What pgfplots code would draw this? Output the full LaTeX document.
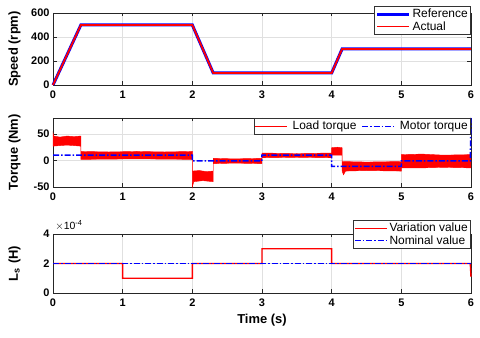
\documentclass[border=0pt]{standalone}
\usepackage{fontspec}
\setmainfont{Liberation Sans}
\usepackage{pgfplots}
\pgfplotsset{compat=1.18}
\definecolor{mred}{RGB}{255,0,0}
\definecolor{mblue}{RGB}{0,0,255}

\pgfplotsset{
  legend image code/.code={\draw[mark repeat=2,mark phase=2,#1] (0bp,0bp) -- (16bp,0bp) -- (32bp,0bp);},
  mat/.style={
    scale only axis, width=418bp,
    xmin=0, xmax=6, xtick={0,...,6},
    axis line style={black!85, line width=0.6bp},
    tick align=inside, major tick length=3.5bp, tick style={black!85, line width=0.5bp},
    grid=major, grid style={black!12, line width=0.5bp},
    /pgf/number format/assume math mode=true,
    ticklabel style={font=\bfseries\fontsize{11}{12}\selectfont},
    xticklabel style={yshift=-2bp},
    label style={font=\bfseries\fontsize{13}{15}\selectfont},
    ylabel style={at={(axis description cs:-0.092,0.5)}, anchor=center},
    legend style={font=\fontsize{12}{13}\selectfont, draw=black!80, line width=0.6bp,
      inner sep=1pt, row sep=-2pt, fill=white, cells={anchor=west}},
    clip=false,
  },
  dashdot/.style={dash pattern=on 6bp off 2bp on 1.5bp off 2bp},
}

\begin{document}
\begin{tikzpicture}[x=1bp,y=1bp]
% ---- speed
\begin{axis}[mat, at={(53bp,253bp)}, anchor=south west, height=72bp,
  ymin=0, ymax=600, ytick={0,200,400,600}, ylabel={Speed (rpm)},
  legend style={at={(1,1.097)}, anchor=north east}]
\addplot[mblue, line width=3bp] coordinates {(0,0)(0.4,500)(2,500)(2.3,100)(4,100)(4.15,300)(6,300)};
\addlegendentry{Reference}
\addplot[mred, line width=1.8bp] coordinates {(0,0)(0.4,500)(2,500)(2.3,100)(4,100)(4.15,300)(6,300)};
\addlegendentry{Actual}
\end{axis}
% ---- torque
\begin{axis}[mat, at={(53bp,151bp)}, anchor=south west, height=69bp,
  ymin=-50, ymax=80, ytick={-50,0,50}, ylabel={Torque (Nm)},
  legend columns=2, legend style={at={(1,1)}, anchor=north east, column sep=3pt}]
\addplot[mred, fill=mred, line width=0.4bp, forget plot] coordinates {
 (0,52)(0.01,46)(0.1,44)(0.2,46)(0.3,45)(0.4,46)(0.4,17)(0.8,16)(1.2,17)(1.6,16)(2,17)
 (2,-20)(2.1,-19)(2.2,-21)(2.3,-20)(2.3,4)(2.6,3)(3,4)(3,14)(3.5,13)(4,14)(4,24)(4.08,25)(4.15,24)
 (4.15,-2)(4.5,-3)(5,-2)(5,11)(5.3,12)(5.6,10)(6,11)
 (6,-14)(5.6,-13)(5.3,-14)(5,-14)(5,-20)(4.5,-19)(4.2,-20)(4.17,-27)(4.15,-20)(4.15,10)(4,10)
 (4,5)(3.5,6)(3,5)(3,-6)(2.6,-5)(2.3,-6)(2.3,-40)(2.15,-38)(2.02,-40)(2,-50)(2,2)(1.2,3)(0.4,2)
 (0.4,27)(0.2,29)(0,27)} -- cycle;
\addlegendimage{mred, line width=0.6bp}
\addlegendentry{Load torque}
\addplot[mblue, line width=1.5bp, dashdot] coordinates {
 (0,10)(2,10)(2,-1)(3,-1)(3,10)(4,10)(4,-11)(5,-11)(5,-1)(5.99,-1)(6,80)};
\addlegendentry{Motor torque}
\end{axis}
% ---- Ls
\begin{axis}[mat, at={(53bp,45bp)}, anchor=south west, height=59bp,
  ymin=0, ymax=4, ytick={0,2,4}, ylabel={L\textsubscript{s} (H)}, xlabel={Time (s)},
  xlabel style={yshift=-1bp},
  legend style={at={(1,1.237)}, anchor=north east}]
\addplot[mred, line width=1.4bp] coordinates {
 (0,2)(1,2)(1,1)(2,1)(2,2)(3,2)(3,3)(4,3)(4,2)(5.99,2)(6,1.1)};
\addlegendentry{Variation value}
\addplot[mblue, line width=1.4bp, dashdot] coordinates {(0,2)(6,2)};
\addlegendentry{Nominal value}
\node[anchor=south west, inner sep=0pt, font=\fontsize{10.5}{12}\selectfont] at (rel axis cs:0.005,1.05) {$\times$10\textsuperscript{-4}};
\end{axis}
\pgfresetboundingbox
\useasboundingbox (0,0) rectangle (480bp,338bp);
\end{tikzpicture}
\end{document}
